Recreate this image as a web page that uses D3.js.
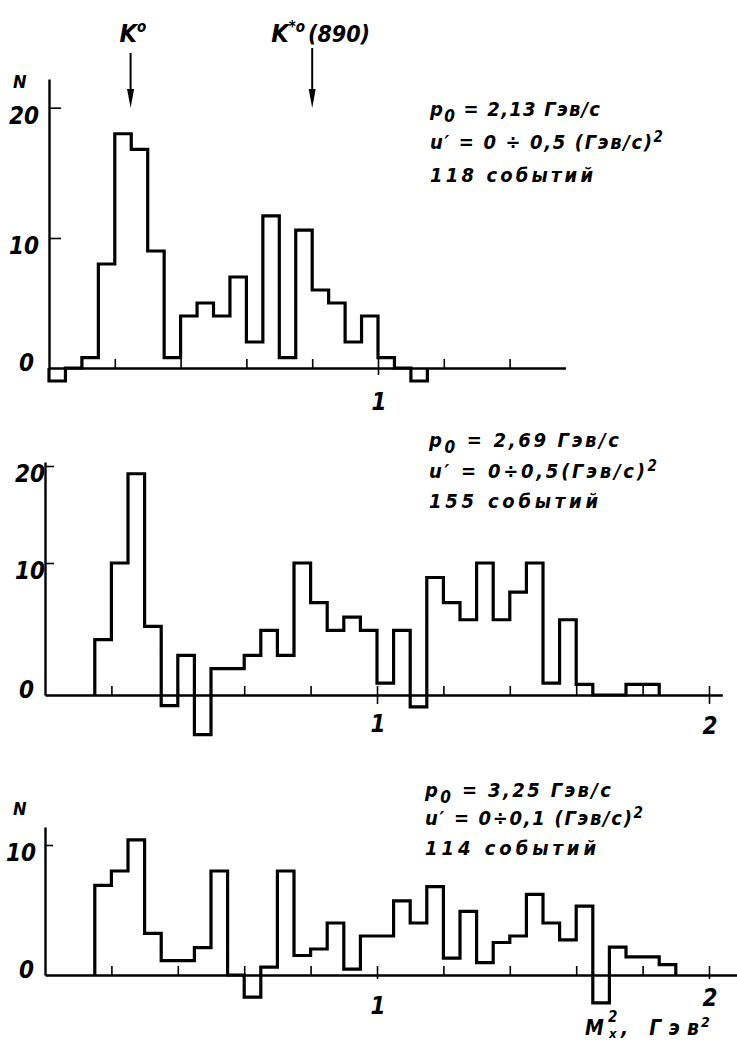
<!DOCTYPE html>
<html>
<head>
<meta charset="utf-8">
<script src="https://cdn.jsdelivr.net/npm/d3@7"></script>
<style>
    body { margin: 0; background: #fff; }
    svg text { font-family: "DejaVu Sans Condensed", "DejaVu Sans", sans-serif; font-style: italic; font-weight: bold; fill: #000; }
</style>
</head>
<body>
<svg id="chart" width="737" height="1043"></svg>
<script>
// histogram data, bins of 0.05 GeV^2 (background subtracted, so some bins are negative)
const binWidth = 0.05;

const topStart = 0.0;
const topCounts = [-1, 0, 0.8, 8, 18, 16.8, 9, 0.8, 4, 5, 4, 7, 2, 11.7, 0.8, 10.6, 6, 5, 2, 4, 0.8, 0, -1];

const midStart = 0.15;
const midCounts = [4.2, 10, 19.2, 5.2, -0.8, 3, -3, 2, 2, 3, 4.9, 3, 10, 7, 4.9, 5.9, 4.9, 0.9, 4.9, -0.9,
                   8.9, 7, 5.7, 10, 5.7, 7.8, 10, 0.9, 5.7, 0.8, 0, 0, 0.8, 0.8];

const botStart = 0.15;
const botCounts = [6.9, 8, 10.4, 3.2, 1.1, 1.1, 2.1, 8, 0, -1.7, 0.6, 8, 1.5, 2, 4, 0.45, 3, 3, 5.7, 4,
                   6.8, 1.3, 4.9, 0.95, 2.5, 3, 6.2, 4, 2.7, 5.3, -2.15, 2.15, 1.4, 1.4, 0.8];

// axes
const topXTicks = [0.2, 0.4, 0.6, 0.8, 1.0, 1.2, 1.4];
const wideXTicks = [0.2, 0.4, 0.6, 0.8, 1.0, 1.2, 1.4, 1.6, 1.8, 2.0];
const topXLabels = [1];
const wideXLabels = [1, 2];
const topYTicks = [0, 10, 20];
const midYTicks = [0, 10, 20];
const botYTicks = [0, 10];

// resonance markers (top panel)
const resonanceNames = ['K', 'K'];
const resonanceSups = ['o', '*o'];
const resonanceSuffix = ['', '(890)'];
const resonanceMass2 = [0.248, 0.80];

// annotations ( _x = subscript, ^x = superscript )
const topNotes = ['p_0 = 2,13 Гэв/с', 'u′ = 0 ÷ 0,5 (Гэв/с)^2', '118  событий'];
const midNotes = ['p_0 = 2,69 Гэв/с', 'u′ = 0÷0,5(Гэв/с)^2', '155  событий'];
const botNotes = ['p_0 = 3,25 Гэв/с', 'u′ = 0÷0,1 (Гэв/с)^2', '114  событий'];

const svg = d3.select('#chart');

const panels = [
    {
        start: topStart, counts: topCounts, xTicks: topXTicks, xLabels: topXLabels, yTicks: topYTicks,
        x0: 49, kx: 329, xEnd: 1.57,
        yDomain: [0, 10, 22.2], yRange: [368, 238, 79],
        yTickLen: 12, yLabelRight: 39, showN: true, nY: 88,
        notes: topNotes, noteX: 430, noteY: [116, 149, 182], noteW: [170, 233, 163],
        xLabelY: [410], downTick: 7
    },
    {
        start: midStart, counts: midCounts, xTicks: wideXTicks, xLabels: wideXLabels, yTicks: midYTicks,
        x0: 45, kx: 332, xEnd: 2.04,
        yDomain: [0, 10, 20, 20.4], yRange: [695, 563, 466, 462],
        yTickLen: 9, yLabelRight: 45, showN: false,
        notes: midNotes, noteX: 429, noteY: [447, 478, 508], noteW: [190, 228, 169],
        xLabelY: [732, 734], downTick: 9
    },
    {
        start: botStart, counts: botCounts, xTicks: wideXTicks, xLabels: wideXLabels, yTicks: botYTicks,
        x0: 45, kx: 332, xEnd: 2.1,
        yDomain: [0, 10, 11.4], yRange: [975, 845, 827],
        yTickLen: 8, yLabelRight: 36, showN: true, nY: 815,
        notes: botNotes, noteX: 425, noteY: [797, 825, 855], noteW: [186, 218, 171],
        xLabelY: [1014, 1006], downTick: 4
    }
];

function richText(sel, str) {
    // split into plain runs and _x / ^x tokens
    const parts = str.split(/([_^].)/).filter(p => p.length);
    let shift = 0;
    parts.forEach(p => {
        let target = 0, size = null, txt = p;
        if (p[0] === '_') { target = 6; size = '0.85em'; txt = p[1]; }
        if (p[0] === '^') { target = -7; size = '0.75em'; txt = p[1]; }
        const t = sel.append('tspan').attr('dy', target - shift).text(txt);
        if (size) t.attr('font-size', size);
        shift = target;
    });
}

function drawPanel(p) {
    const g = svg.append('g');
    const x = d3.scaleLinear().domain([0, p.xEnd]).range([p.x0, p.x0 + p.kx * p.xEnd]);
    const y = d3.scaleLinear().domain(p.yDomain).range(p.yRange);

    // x axis: ticks point up from the baseline
    const xAxis = g.append('g')
        .attr('transform', `translate(0,${y(0)})`)
        .call(d3.axisTop(x).tickValues(p.xTicks).tickSize(9).tickSizeOuter(0).tickFormat(''));
    xAxis.select('.domain').attr('stroke-width', 2.4);
    xAxis.selectAll('.tick line').attr('stroke-width', 1.6);

    // labelled ticks also cross below the axis
    const xLab = g.append('g')
        .attr('transform', `translate(0,${y(0)})`)
        .call(d3.axisBottom(x).tickValues(p.xLabels).tickSize(p.downTick).tickFormat(''));
    xLab.select('.domain').remove();
    xLab.selectAll('.tick line').attr('stroke-width', 1.6);

    g.selectAll('.x-label')
        .data(p.xLabels)
        .enter()
        .append('text')
        .attr('class', 'x-label')
        .attr('x', d => x(d) + 1)
        .attr('y', (d, i) => p.xLabelY[i])
        .attr('text-anchor', 'middle')
        .attr('font-size', 24)
        .text(d => d);

    // y axis with ticks to the right
    const yAxis = g.append('g')
        .attr('transform', `translate(${x(0)},0)`)
        .call(d3.axisRight(y).tickValues(p.yTicks.filter(v => v > 0)).tickSize(p.yTickLen).tickSizeOuter(0).tickFormat(''));
    yAxis.select('.domain').attr('stroke-width', 2.4);
    yAxis.selectAll('.tick line').attr('stroke-width', 1.6);

    g.selectAll('.y-label')
        .data(p.yTicks)
        .enter()
        .append('text')
        .attr('class', 'y-label')
        .attr('x', d => d === 0 ? 34 : p.yLabelRight)
        .attr('y', d => d === 0 ? y(d) + 3 : y(d) + 16)
        .attr('text-anchor', 'end')
        .attr('font-size', 24)
        .text(d => d);

    if (p.showN) {
        g.append('text')
            .attr('x', 13)
            .attr('y', p.nY)
            .attr('font-size', 18)
            .text('N');
    }

    // histogram outline
    const pts = [[p.start, 0]];
    p.counts.forEach((c, i) => pts.push([p.start + i * binWidth, c]));
    pts.push([p.start + p.counts.length * binWidth, 0]);

    const histLine = d3.line()
        .x(d => x(d[0]))
        .y(d => y(d[1]))
        .curve(d3.curveStepAfter);

    g.append('path')
        .datum(pts)
        .attr('d', histLine)
        .attr('fill', 'none')
        .attr('stroke', '#000')
        .attr('stroke-width', 3.2)
        .attr('stroke-linejoin', 'miter');

    // annotation block
    p.notes.forEach((note, i) => {
        const t = g.append('text')
            .attr('x', p.noteX)
            .attr('y', p.noteY[i])
            .attr('font-size', 20)
            .attr('textLength', p.noteW[i])
            .attr('lengthAdjust', 'spacing');
        richText(t, note);
    });

    return { x, y };
}

const scales = panels.map(drawPanel);

// resonance arrows on the top panel
const topScale = scales[0];
resonanceMass2.forEach((m, i) => {
    const ax = topScale.x(m);
    const y1 = i === 0 ? 53 : 48;
    svg.append('line')
        .attr('x1', ax).attr('x2', ax)
        .attr('y1', y1).attr('y2', 96)
        .attr('stroke', '#000')
        .attr('stroke-width', 2);
    svg.append('path')
        .attr('d', `M${ax - 3.5},89 L${ax + 3.5},89 L${ax},108 Z`)
        .attr('fill', '#000');

    const t = svg.append('text')
        .attr('x', i === 0 ? ax - 11 : ax - 41)
        .attr('y', 42)
        .attr('font-size', 25)
        .text(resonanceNames[i]);
    t.append('tspan')
        .attr('dy', -10)
        .attr('font-size', 15)
        .text(resonanceSups[i]);
    if (resonanceSuffix[i]) {
        t.append('tspan')
            .attr('dy', 10)
            .attr('dx', 3)
            .attr('font-size', 23)
            .text(resonanceSuffix[i]);
    }
});

// x-axis title on the bottom panel
const axisTitle = svg.append('g').attr('font-size', 21);
axisTitle.append('text').attr('x', 585).attr('y', 1035).text('M');
axisTitle.append('text').attr('x', 608).attr('y', 1022).attr('font-size', 15).text('2');
axisTitle.append('text').attr('x', 609).attr('y', 1038).attr('font-size', 13).text('x');
axisTitle.append('text').attr('x', 621).attr('y', 1035)
    .attr('textLength', 78).attr('lengthAdjust', 'spacing').text(', Гэв');
axisTitle.append('text').attr('x', 701).attr('y', 1027).attr('font-size', 14).text('2');
</script>
</body>
</html>
